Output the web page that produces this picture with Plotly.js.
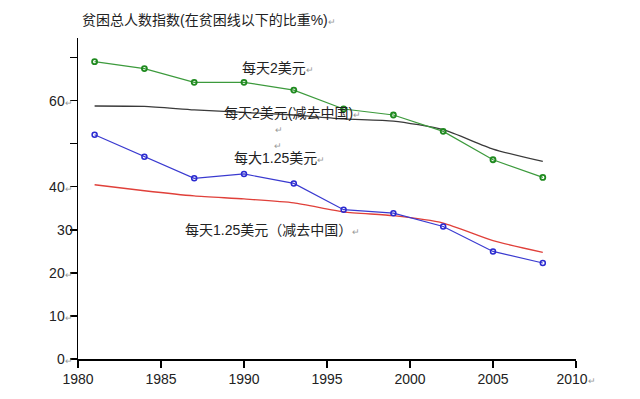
<!DOCTYPE html>
<html>
<head>
<meta charset="utf-8">
<script src="https://cdn.plot.ly/plotly-3.0.1.min.js"></script>
<style>html,body{margin:0;padding:0;background:#fff;}#chart{width:640px;height:399px;}</style>
</head>
<body>
<div id="chart"></div>
<script>
// Data
var years = [1981, 1984, 1987, 1990, 1993, 1996, 1999, 2002, 2005, 2008];
var usd2 = [69.1, 67.5, 64.3, 64.3, 62.5, 58.1, 56.7, 52.9, 46.3, 42.2];
var usd2ExChina = [58.8, 58.7, 57.9, 57.3, 56.7, 55.8, 55.3, 53.3, 48.8, 45.9];
var usd125 = [52.1, 47.0, 42.0, 43.0, 40.8, 34.7, 33.9, 30.8, 25.0, 22.3];
var usd125ExChina = [40.5, 39.1, 37.9, 37.2, 36.3, 34.2, 33.3, 31.6, 27.5, 24.8];

var yTickVals = [0, 10, 20, 30, 40, 50, 60, 70];
var yTickText = ['0', '10', '20', '30', '40', '', '60', ''];
var yTickMark = [true, true, true, false, true, false, true, false];
var xTickVals = [1980, 1985, 1990, 1995, 2000, 2005, 2010];
var xTickText = ['1980', '1985', '1990', '1995', '2000', '2005', '2010'];

var titleText = '贫困总人数指数(在贫困线以下的比重%)';
var labels = ['每天2美元', '每天2美元(减去中国)', '每大1.25美元', '每天1.25美元（减去中国）'];

var RET = "<span style='font-size:9px;color:#999'>↵</span>";
var FONT = 'Liberation Sans, Arial, Noto Sans CJK SC, sans-serif';

var traces = [
  {x: years, y: usd2ExChina, type: 'scatter', mode: 'lines',
   line: {color: '#3a3a3a', width: 1.3, shape: 'spline', smoothing: 0.6}},
  {x: years, y: usd125ExChina, type: 'scatter', mode: 'lines',
   line: {color: '#e0403a', width: 1.3, shape: 'spline', smoothing: 0.6}},
  {x: years, y: usd2, type: 'scatter', mode: 'lines+markers',
   line: {color: '#3c9a3c', width: 1.2},
   marker: {symbol: 'circle-open', size: 5, color: '#1f8a1f', line: {width: 1.8, color: '#1f8a1f'}}},
  {x: years, y: usd125, type: 'scatter', mode: 'lines+markers',
   line: {color: '#3a3ad0', width: 1.2},
   marker: {symbol: 'circle-open', size: 5, color: '#2a2ad0', line: {width: 1.5, color: '#2a2ad0'}}}
];

var ann = [
  {x: 1989.76, y: 67.7, text: labels[0] + RET},
  {x: 1988.66, y: 57.2, text: labels[1] + RET},
  {x: 1991.75, y: 53.3, text: RET},
  {x: 1991.7, y: 49.5, text: RET},
  {x: 1989.26, y: 46.7, text: labels[2] + RET},
  {x: 1986.33, y: 30.0, text: labels[3] + RET}
].map(function (a) {
  return {x: a.x, y: a.y, xref: 'x', yref: 'y', text: a.text, showarrow: false,
          xanchor: 'left', yanchor: 'middle',
          font: {family: FONT, size: 14, color: '#222'}};
});

var layout = {
  width: 640, height: 399,
  margin: {l: 78, r: 64, t: 38, b: 40},
  paper_bgcolor: '#fff', plot_bgcolor: '#fff',
  showlegend: false,
  font: {family: FONT, size: 14, color: '#222'},
  title: {text: titleText + RET, x: 82 / 640, xanchor: 'left', xref: 'container',
          y: 1 - 20 / 399, yanchor: 'middle', yref: 'container',
          font: {family: FONT, size: 14, color: '#222'}},
  xaxis: {range: [1980, 2010], tickvals: xTickVals,
          ticktext: xTickText.map(function (t, i) { return i === xTickText.length - 1 ? t + RET : t; }),
          showgrid: false, zeroline: false, showline: true, linecolor: '#000', linewidth: 1.5,
          ticks: 'outside', ticklen: 7, tickcolor: '#000', tickwidth: 1.2,
          tickfont: {family: FONT, size: 14, color: '#222'}},
  yaxis: {range: [0, 74.6], tickvals: yTickVals,
          ticktext: yTickText.map(function (t, i) { return yTickMark[i] ? t + RET : t; }),
          showgrid: false, zeroline: false, showline: true, linecolor: '#000', linewidth: 1.5,
          ticks: 'outside', ticklen: 7, tickcolor: '#000', tickwidth: 1.2,
          ticklabelstandoff: -6,
          tickfont: {family: FONT, size: 14, color: '#222'}},
  annotations: ann
};

Plotly.newPlot('chart', traces, layout, {staticPlot: true, displayModeBar: false});
</script>
</body>
</html>
